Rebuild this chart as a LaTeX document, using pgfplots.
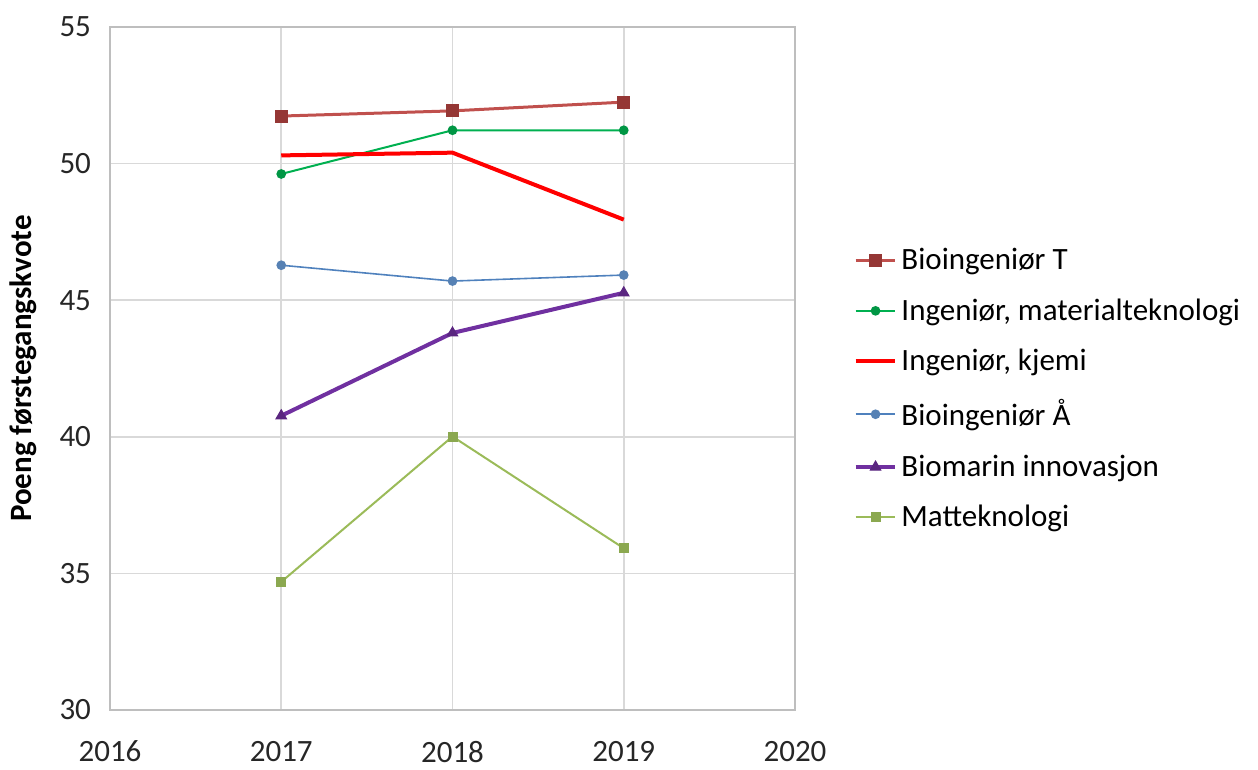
\documentclass[border=0pt]{standalone}
\usepackage{pgfplots}
\pgfplotsset{compat=1.18}
\usepackage{fontspec}
\setmainfont{Carlito}
\definecolor{bioT}{HTML}{C0504D}
\definecolor{bioTm}{HTML}{953735}
\definecolor{matgreen}{HTML}{00B050}
\definecolor{kjemired}{HTML}{FF0000}
\definecolor{bioA}{HTML}{4F81BD}
\definecolor{biomar}{HTML}{7030A0}
\definecolor{mattek}{HTML}{9BBB59}
\definecolor{gridc}{HTML}{D9D9D9}
\begin{document}
\begin{tikzpicture}
\begin{axis}[
  at={(0,0)}, anchor=south west,
  scale only axis,
  width=342.5pt, height=341.5pt,
  xmin=2016, xmax=2020, ymin=30, ymax=55,
  xtick={2016,2017,2018,2019,2020},
  ytick={30,35,40,45,50,55},
  /pgf/number format/1000 sep={},
  /pgf/number format/assume math mode=true,
  tick label style={font=\fontsize{15.5}{18}\selectfont, color=black!85},
  xticklabel style={yshift=-12pt},
  yticklabel style={xshift=-6pt},
  major tick length=0pt,
  grid=major,
  major grid style={gridc, line width=0.8pt},
  axis line style={gridc!70!gray, line width=0.8pt},
  ylabel={\textbf{Poeng førstegangskvote}},
  ylabel style={font=\fontsize{15.5}{18}\selectfont, at={(axis description cs:-0.097,0.5)}, anchor=south},
  legend style={draw=none, fill=none, at={(axis description cs:1.085,0.47)}, anchor=west,
    font=\fontsize{15.5}{18}\selectfont, row sep=9pt, inner sep=0pt,
    cells={anchor=west}},
  legend image code/.code={
    \draw[mark repeat=2, mark phase=2, #1] plot coordinates {(0cm,0cm) (0.35cm,0cm) (0.7cm,0cm)};
  },
]
\addplot[bioT, line width=1.5pt, mark=square*, mark size=3pt, mark options={fill=bioTm, draw=bioTm, line width=0.5pt}]
  coordinates {(2017,51.74) (2018,51.93) (2019,52.25)};
\addlegendentry{Bioingeniør T}
\addplot[matgreen, line width=1pt, mark=*, mark size=1.9pt, mark options={fill=matgreen!85!black, draw=matgreen!85!black}]
  coordinates {(2017,49.62) (2018,51.22) (2019,51.22)};
\addlegendentry{Ingeniør, materialteknologi}
\addplot[kjemired, line width=2pt, mark=none]
  coordinates {(2017,50.30) (2018,50.40) (2019,47.95)};
\addlegendentry{Ingeniør, kjemi}
\addplot[bioA, line width=0.8pt, mark=*, mark size=2pt, mark options={fill=bioA!85!gray, draw=bioA!85!gray}]
  coordinates {(2017,46.28) (2018,45.70) (2019,45.92)};
\addlegendentry{Bioingeniør Å}
\addplot[biomar, line width=2pt, mark=triangle*, mark size=3pt, mark options={fill=biomar!80!black, draw=biomar!80!black, line width=0.5pt}]
  coordinates {(2017,40.77) (2018,43.80) (2019,45.27)};
\addlegendentry{Biomarin innovasjon}
\addplot[mattek, line width=1pt, mark=square*, mark size=2pt, mark options={fill=mattek!90!black, draw=mattek!90!black}]
  coordinates {(2017,34.69) (2018,40.01) (2019,35.92)};
\addlegendentry{Matteknologi}
\end{axis}
\path (-55pt,-27.5pt) rectangle (574pt,355pt);
\end{tikzpicture}
\end{document}
